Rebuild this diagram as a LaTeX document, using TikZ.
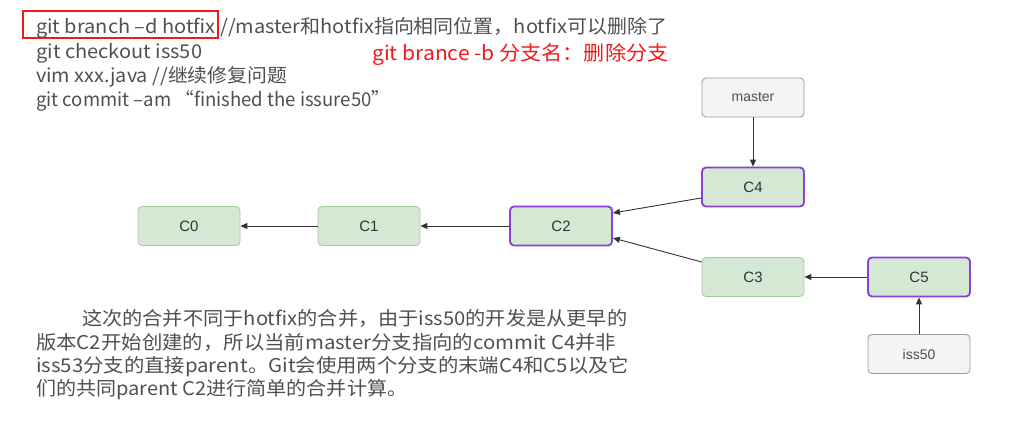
\documentclass[tikz,border=0pt]{standalone}
\usepackage{fontspec}
\usepackage{graphicx}
\setmainfont{Noto Sans CJK SC}
\newfontfamily\nodefont{Liberation Sans}
\usetikzlibrary{arrows.meta}
\definecolor{txtgray}{HTML}{505050}
\definecolor{cfill}{HTML}{D5E8D4}
\definecolor{cborder}{HTML}{A9C99E}
\definecolor{hborder}{HTML}{8A3FD6}
\definecolor{rfill}{HTML}{F4F4F7}
\definecolor{rborder}{HTML}{9A9A9A}
\definecolor{ntext}{HTML}{333333}
\definecolor{redtxt}{HTML}{F01A1A}
\newcommand{\fitw}[2]{\resizebox{#1pt}{\height}{#2}}
\begin{document}
\begin{tikzpicture}[x=1pt,y=-1pt,
  commit/.style={draw=cborder, fill=cfill, rounded corners=4pt, minimum width=102pt, minimum height=39pt, line width=0.8pt, inner sep=0pt, font=\nodefont\fontsize{15}{17}\selectfont, text=ntext},
  headc/.style={commit, draw=hborder, line width=1.8pt},
  refc/.style={commit, fill=rfill, draw=rborder, font=\nodefont\fontsize{14}{16}\selectfont, text=txtgray},
  conn/.style={draw=ntext, line width=0.9pt, -{Triangle[length=7pt,width=6pt]}},
  codeline/.style={anchor=base west, inner sep=0pt, text=txtgray, font=\fontsize{19}{22}\selectfont},
  para/.style={anchor=base west, inner sep=0pt, text=txtgray, font=\fontsize{19}{22}\selectfont},
  redline/.style={anchor=base west, inner sep=0pt, text=redtxt, font=\fontsize{20}{24}\selectfont}]
\useasboundingbox[fill=white] (0,0) rectangle (1019,427);
% code lines
\node[codeline] (l1) at (36,34) {\fitw{631}{git branch –d hotfix //master和hotfix指向相同位置，hotfix可以删除了}};
\node[codeline] (l2) at (36,59) {\fitw{166}{git checkout iss50}};
\node[codeline] (l3) at (36,83) {\fitw{251}{vim xxx.java //继续修复问题}};
\node[codeline] (l4) at (36,107) {\fitw{354}{git commit –am “finished the issure50”}};
\draw[draw=redtxt, line width=1.3pt] (23,11) rectangle (218,38);
\node[redline] (r1) at (372,61) {\fitw{296}{git brance -b 分支名：删除分支}};
% paragraph
\node[para] (p1) at (82,326) {\fitw{545}{这次的合并不同于hotfix的合并，由于iss50的开发是从更早的}};
\node[para] (p2) at (36,349) {\fitw{580}{版本C2开始创建的，所以当前master分支指向的commit C4并非}};
\node[para] (p3) at (36,372) {\fitw{593}{iss53分支的直接parent。Git会使用两个分支的末端C4和C5以及它}};
\node[para] (p4) at (36,395) {\fitw{371}{们的共同parent C2进行简单的合并计算。}};
% nodes
\node[commit] (C0) at (189,226) {C0};
\node[commit] (C1) at (369,226) {C1};
\node[headc] (C2) at (561,226) {C2};
\node[refc] (master) at (753,97.5) {master};
\node[headc] (C4) at (753,187) {C4};
\node[commit] (C3) at (753,277) {C3};
\node[headc] (C5) at (919,277) {C5};
\node[refc] (iss50) at (919,354) {iss50};
% connectors
\draw[conn] (C1.west) -- (C0.east);
\draw[conn] (C2.west) -- (C1.east);
\draw[conn] (master.south) -- (C4.north);
\draw[conn] ([yshift=-11pt]C4.west) -- ([yshift=13pt]C2.east);
\draw[conn] ([yshift=15pt]C3.west) -- ([yshift=-12pt]C2.east);
\draw[conn] (C5.west) -- (C3.east);
\draw[conn] (iss50.north) -- (C5.south);
\end{tikzpicture}
\end{document}
